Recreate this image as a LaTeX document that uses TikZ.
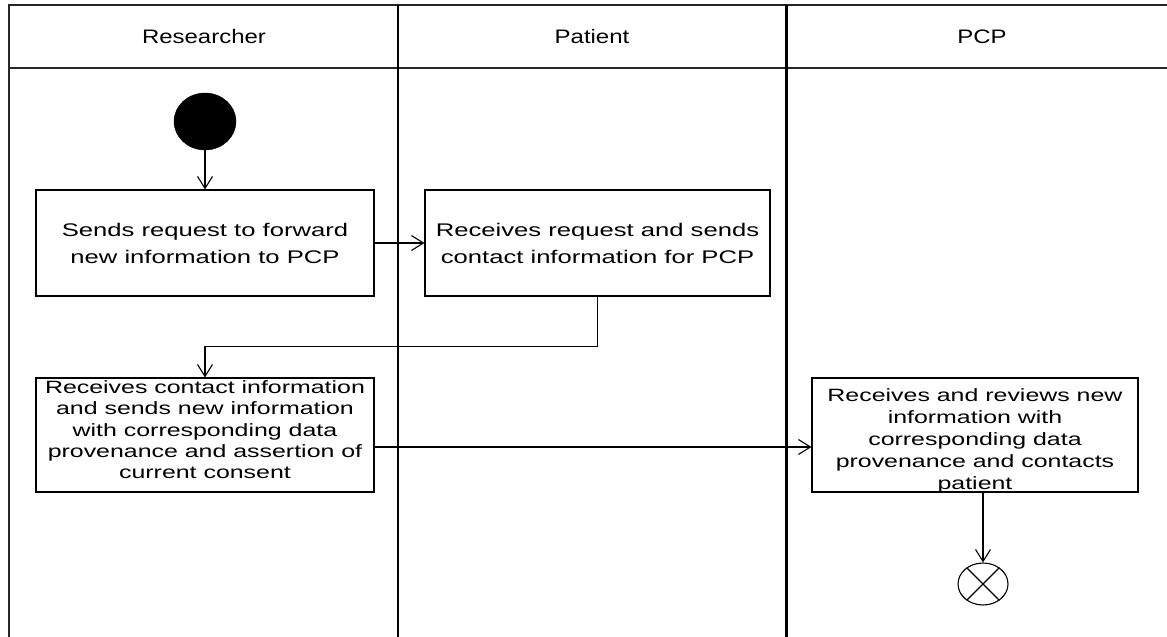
\documentclass[tikz,border=0pt]{standalone}
\usepackage{fontspec}
\setmainfont{Liberation Sans}[FakeStretch=1.23]
\newfontfamily\boxfont{Liberation Sans}[FakeStretch=1.40]
\usetikzlibrary{arrows.meta,shapes.geometric}
\tikzset{
  lane/.style={line width=1.4pt,draw=black!85},
  actbox/.style={draw,line width=1.1pt,rectangle,inner sep=0pt},
  acttext/.style={inner sep=0pt,align=center},
  hdr/.style={font=\fontsize{19.5}{25}\selectfont},
  flow/.style={line width=1.1pt,-{Straight Barb[length=12pt,width=15pt,line width=1.1pt]}}
}
\begin{document}
\begin{tikzpicture}[x=1pt,y=-1pt]
\useasboundingbox (0,0) rectangle (1167,637);
% swimlane frame
\draw[lane] (9,637) -- (9,5) -- (1167,5);
\draw[lane] (9,68) -- (1167,68);
\draw[line width=1.6pt] (398,5) -- (398,637);
\draw[line width=2.6pt] (786.5,5) -- (786.5,637);
% headers
\node[hdr] (hres) at (204,37) {Researcher};
\node[hdr] (hpat) at (592,37) {Patient};
\node[hdr] (hpcp) at (982,37) {PCP};
% nodes
\node[draw,fill=black,ellipse,minimum width=62pt,minimum height=57pt,inner sep=0pt] (start) at (205,121.5) {};
\node[actbox,minimum width=338pt,minimum height=106pt] (b1) at (205,243) {};
\node[acttext,font=\boxfont\fontsize{18.3}{27}\selectfont] (b1t) at (205,243) {Sends request to forward\\new information to PCP};
\node[actbox,minimum width=345pt,minimum height=106pt] (b2) at (597.5,243) {};
\node[acttext,font=\boxfont\fontsize{18.3}{27}\selectfont] (b2t) at (597.5,243) {Receives request and sends\\contact information for PCP};
\node[actbox,minimum width=338pt,minimum height=114pt] (b3) at (205,435) {};
\node[acttext,anchor=north,font=\boxfont\fontsize{17.8}{21.2}\selectfont] (b3t) at (205,380.5) {Receives contact information\\and sends new information\\with corresponding data\\provenance and assertion of\\current consent};
\node[actbox,minimum width=326pt,minimum height=114pt] (b4) at (975,435) {};
\node[acttext,anchor=north,font=\boxfont\fontsize{17.8}{22}\selectfont] (b4t) at (975,388) {Receives and reviews new\\information with\\corresponding data\\provenance and contacts\\patient};
\node[draw,line width=1.1pt,ellipse,minimum width=50pt,minimum height=42pt,inner sep=0pt] (end) at (983,584) {};
\draw[line width=1.1pt] (end.45) -- (end.225);
\draw[line width=1.1pt] (end.135) -- (end.315);
% connectors
\draw[flow] (start) -- (b1);
\draw[flow] (b1) -- (b2);
\draw[flow] (b2.south) -- ++(0,50) -| (b3.north);
\draw[flow] ([yshift=-12pt]b3.east) -- ([yshift=-12pt]b4.west);
\draw[flow] (b4.south -| end.north) -- (end.north);
\end{tikzpicture}
\end{document}
